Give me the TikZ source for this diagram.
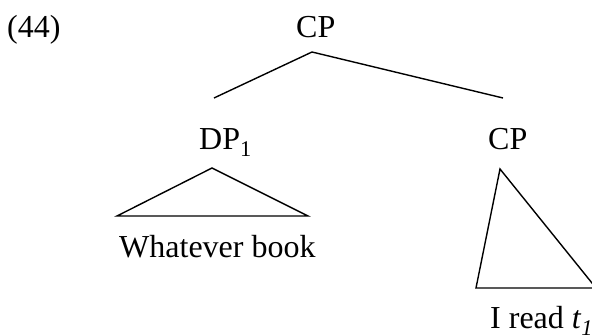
\documentclass[tikz,border=0pt]{standalone}
\usepackage{fontspec}
\setmainfont{Liberation Serif}
\begin{document}
\begin{tikzpicture}[x=1pt,y=-1pt,
  lbl/.style={font=\fontsize{32}{38}\selectfont, inner sep=0pt, anchor=base west},
  branch/.style={line width=1.4pt, line cap=butt},
  roof/.style={line width=1.4pt, line join=miter}]
\useasboundingbox (0,0) rectangle (592,336);

% example number and labels
\node[lbl] (ex)   at (7,38)    {(44)};
\node[lbl] (root) at (296,38)  {CP};
\node[lbl] (dp)   at (199,150) {DP\textsubscript{1}};
\node[lbl] (cp)   at (488,150) {CP};
\node[lbl] (wb)   at (119,258) {Whatever book};
\node[lbl] (ir)   at (490,329) {I read \textit{t}\textsubscript{\textit{1}}};

% branches from the root
\coordinate (top)  at (312,52);
\coordinate (ldot) at (214,98);
\coordinate (rdot) at (503,98);
\draw[branch] (ldot) -- (top) -- (rdot);

% roof over the fronted DP
\coordinate (dpA) at (212,168);
\coordinate (dpL) at (117,216);
\coordinate (dpR) at (308,216);
\draw[roof] (dpA) -- (dpL) -- (dpR) -- cycle;

% roof over the remnant CP
\coordinate (cpA) at (500,169);
\coordinate (cpL) at (476,288);
\coordinate (cpR) at (596,288);
\draw[roof] (cpA) -- (cpL) -- (cpR) -- cycle;
\end{tikzpicture}
\end{document}
